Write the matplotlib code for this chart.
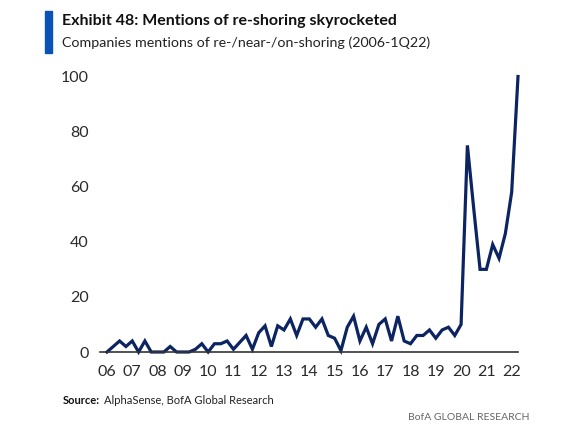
import matplotlib
matplotlib.use('agg')
import matplotlib.pyplot as plt
from matplotlib import font_manager
from matplotlib.patches import Rectangle

# quarterly mentions index, 2006Q1 onwards
mentions = [0, 2, 4, 2, 4, 0, 4, 0,
            0, 0, 2, 0, 0, 0, 1, 3,
            0, 3, 3, 4, 1, 3.5, 6, 1,
            7, 9.5, 2, 9.5, 8, 12, 6, 12,
            12, 9, 12, 6, 5, 0.5, 9, 13,
            4, 9, 3, 10, 12, 4, 13, 4,
            3, 6, 6, 8, 5, 8, 9, 6,
            10, 75, 52, 30, 30, 39, 34, 43,
            58, 100]
year_labels = ['06', '07', '08', '09', '10', '11', '12', '13', '14',
               '15', '16', '17', '18', '19', '20', '21', '22']
y_ticks = [0, 20, 40, 60, 80, 100]

names = {f.name for f in font_manager.fontManager.ttflist}
fam = 'Liberation Sans Narrow' if 'Liberation Sans Narrow' in names else 'Lato'
plt.rcParams['font.family'] = fam

navy = '#0c2461'
txt = '#222222'

fig = plt.figure(figsize=(5.8, 4.32), dpi=100)
ax = fig.add_axes([100/580, 1-352/432, 418/580, (352-76.5)/432])

ax.plot(range(len(mentions)), mentions, color=navy, lw=2.3, clip_on=False,
        solid_joinstyle='miter')
ax.set_xlim(-1.1, 65)
ax.set_ylim(0, 100)
ax.set_xticks(range(0, 4*len(year_labels), 4))
ax.set_xticklabels(year_labels)
ax.set_yticks(y_ticks)
for s in ['top', 'right', 'left']:
    ax.spines[s].set_visible(False)
ax.spines['bottom'].set_color('#333333')
ax.spines['bottom'].set_linewidth(1.2)
ax.tick_params(axis='both', length=0, labelsize=11.5, colors='#2a2a2a')
ax.tick_params(axis='x', pad=9)
ax.tick_params(axis='y', pad=8)

# header
fig.patches.append(Rectangle((45/580, 1-53/432), 7/580, 42/432,
                             transform=fig.transFigure, color='#0a52b5'))
fig.text(62/580, 1-21/432, 'Exhibit 48: Mentions of re-shoring skyrocketed',
         fontsize=11.5, fontweight='bold', color='#111111', va='center')
fig.text(62/580, 1-43/432, 'Companies mentions of re-/near-/on-shoring (2006-1Q22)',
         fontsize=10.3, color=txt, va='center')

# footer
t = fig.text(63/580, 1-401/432, 'Source:', fontsize=8, fontweight='bold',
             color='#111111', va='center')
fig.canvas.draw()
bb = t.get_window_extent()
fig.text((bb.x1 + 4)/580, 1-401/432, 'AlphaSense, BofA Global Research',
         fontsize=8, color=txt, va='center')
fig.text(529/580, 1-418/432, 'BofA GLOBAL RESEARCH', fontsize=7.5,
         color='#666666', va='center', ha='right')

fig.savefig('out.png', dpi=100)
